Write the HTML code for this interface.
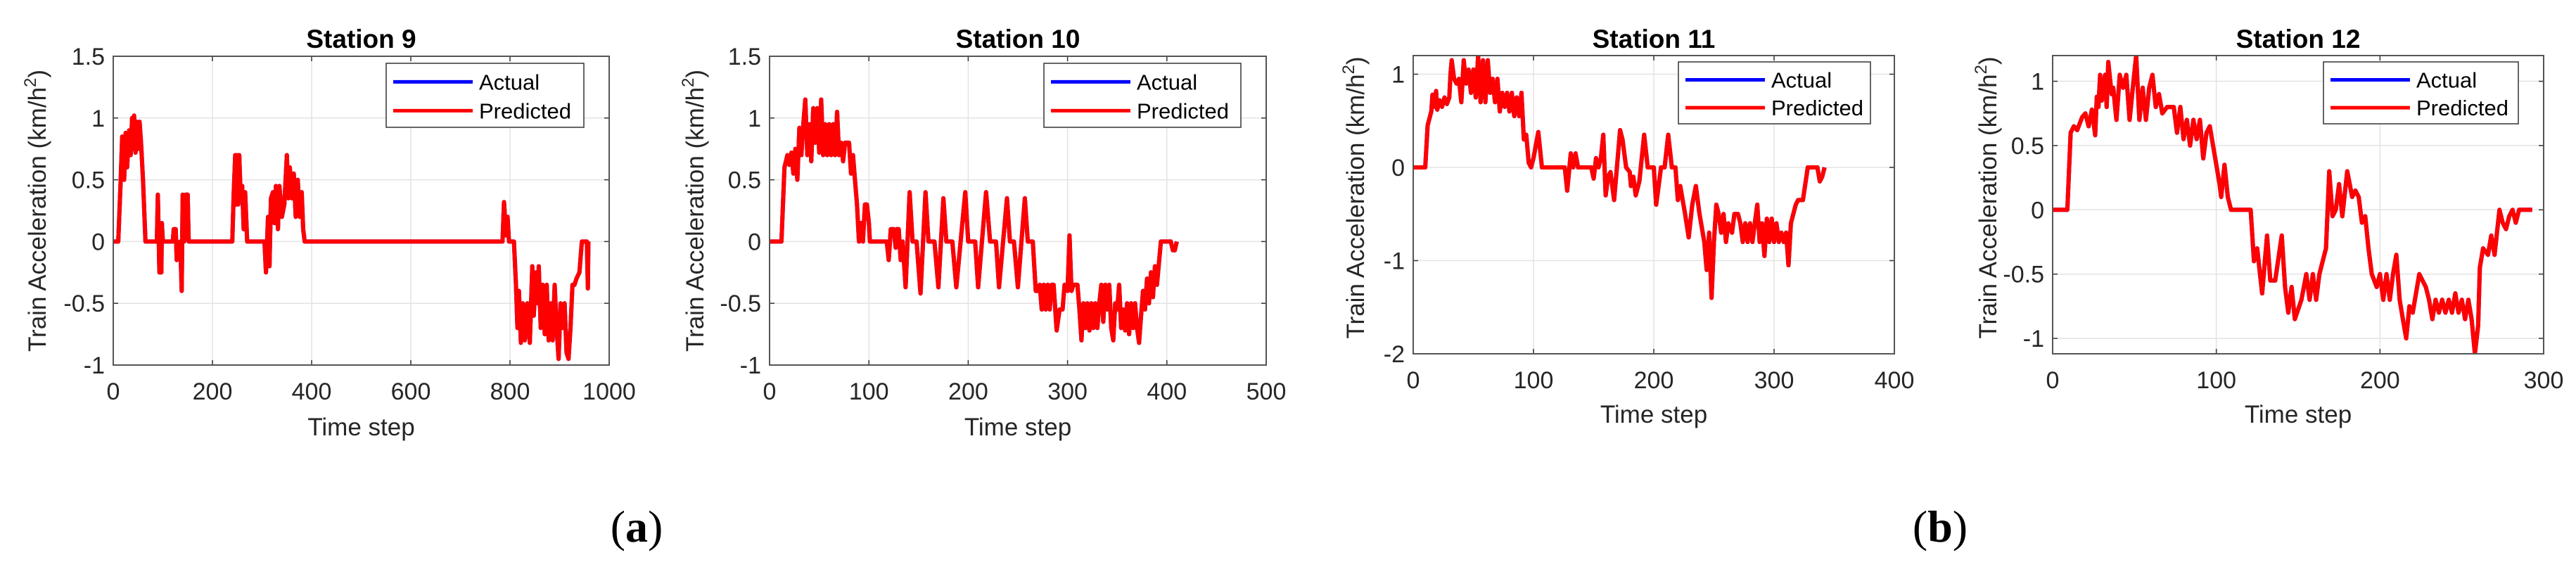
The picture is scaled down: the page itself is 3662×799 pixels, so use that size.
<!DOCTYPE html>
<html><head><meta charset="utf-8"><style>
html,body{margin:0;padding:0;background:#fff;}
svg{display:block;font-family:"Liberation Sans",Arial,sans-serif;}
</style></head><body>
<svg id="fig" width="3662" height="799" viewBox="0 0 3662 799" xmlns="http://www.w3.org/2000/svg">
<text x="905" y="770" font-family="Liberation Serif,serif" font-size="64" text-anchor="middle">(<tspan font-weight="bold">a</tspan>)</text>
<text x="2758" y="770" font-family="Liberation Serif,serif" font-size="64" text-anchor="middle">(<tspan font-weight="bold">b</tspan>)</text>
</svg>
<script>
const s9T=[0,10,15,18,22,25,28,32,35,38,40,42,45,48,50,53,56,60,65,88,90,93,97,98,100,120,122,126,128,132,135,138,140,143,146,150,152,240,243,246,248,250,252,254,257,260,263,266,270,305,308,312,315,318,322,325,328,332,335,340,345,350,353,356,360,364,368,372,376,380,383,386,785,788,792,795,798,808,812,815,818,822,826,830,835,840,845,848,852,856,858,862,866,870,874,878,882,886,890,894,898,902,906,910,914,918,922,926,930,934,940,945,955,957,958];
const s9V=[0,0,0.5,0.85,0.5,0.88,0.6,0.9,0.7,1.0,0.75,1.02,0.72,0.97,0.75,0.97,0.8,0.5,0,0,0.38,-0.25,-0.25,0.15,0,0,0.1,0.1,-0.15,-0.1,0,-0.4,0.38,0,0.38,0.38,0,0,0.4,0.7,0.3,0.7,0.3,0.7,0.35,0.45,0.1,0.4,0,0,-0.25,0.2,-0.2,0.35,0.4,0.15,0.45,0.1,0.45,0.2,0.3,0.7,0.35,0.6,0.35,0.55,0.2,0.5,0.2,0.4,0.1,0,0,0.32,0.05,0.2,0,0,-0.35,-0.7,-0.4,-0.82,-0.5,-0.8,-0.5,-0.82,-0.2,-0.6,-0.25,-0.5,-0.2,-0.7,-0.35,-0.75,-0.35,-0.8,-0.5,-0.8,-0.35,-0.7,-0.95,-0.5,-0.7,-0.5,-0.9,-0.95,-0.7,-0.35,-0.35,-0.3,-0.25,0,0,-0.38,0];
const s10T=[0,12,15,18,20,22,24,26,28,30,32,34,36,38,40,42,44,46,48,50,52,54,56,58,60,62,64,66,68,70,72,74,76,80,82,84,86,88,90,92,94,96,98,100,101,118,120,122,125,127,128,130,132,134,137,141,144,148,152,157,160,166,170,175,178,184,188,197,200,207,210,218,222,228,231,239,242,246,250,257,260,265,268,270,272,274,276,278,280,282,284,286,289,292,295,297,300,302,304,306,310,312,314,316,318,320,322,324,326,328,330,332,334,336,338,340,342,344,346,348,350,352,354,356,358,360,362,364,366,368,370,372,374,376,378,380,382,384,386,388,390,394,404,406,408,410];
const s10V=[0,0,0.6,0.7,0.62,0.72,0.55,0.75,0.5,0.92,0.7,0.95,1.15,0.7,0.95,0.65,1.08,0.8,1.08,0.72,1.15,0.7,0.95,0.7,0.95,0.7,0.95,0.7,1.05,0.7,0.8,0.65,0.8,0.8,0.55,0.7,0.5,0.3,0,0.15,0,0.3,0.3,0.15,0,0,-0.15,0.1,0.1,-0.05,0.1,0.1,-0.15,0,-0.37,0.4,0,0,-0.42,0.4,0,0,-0.37,0.35,0,0,-0.37,0.4,0,0,-0.37,0.4,0,0,-0.37,0.35,0,0,-0.37,0.35,0,0,-0.4,-0.4,-0.35,-0.55,-0.35,-0.55,-0.35,-0.55,-0.35,-0.35,-0.72,-0.55,-0.55,-0.35,-0.4,0.05,-0.4,-0.35,-0.35,-0.55,-0.8,-0.5,-0.7,-0.5,-0.72,-0.5,-0.7,-0.5,-0.7,-0.5,-0.35,-0.65,-0.35,-0.55,-0.35,-0.7,-0.8,-0.5,-0.55,-0.35,-0.7,-0.55,-0.72,-0.5,-0.75,-0.5,-0.7,-0.5,-0.7,-0.82,-0.6,-0.4,-0.55,-0.3,-0.5,-0.25,-0.45,-0.2,-0.35,0,0,-0.07,-0.07,0];
const s11T=[0,10,12,15,16,18,19,20,22,24,26,28,30,31,32,34,36,38,40,42,44,46,48,50,52,54,56,58,60,62,64,66,68,70,72,74,76,78,80,82,84,86,88,90,92,94,96,98,100,104,107,126,128,131,133,135,137,148,150,152,154,156,158,160,162,164,167,170,172,174,177,180,181,183,185,188,192,195,200,202,206,209,212,215,218,220,222,226,229,232,235,238,242,244,246,248,250,252,254,256,258,260,262,265,267,270,272,274,276,278,280,282,284,286,288,290,292,294,296,298,300,302,304,306,308,310,312,314,318,320,324,328,336,338,340,342];
const s11V=[0,0,0.45,0.6,0.78,0.65,0.82,0.62,0.72,0.65,0.75,0.68,0.75,1.0,1.15,0.95,0.9,0.95,0.7,1.15,0.9,1.05,0.8,1.05,0.75,1.2,0.7,1.15,0.7,1.15,0.8,0.95,0.7,0.95,0.6,0.8,0.65,0.8,0.6,0.8,0.55,0.75,0.55,0.8,0.3,0.35,0.05,0,0.1,0.38,0,0,-0.25,0.15,0,0.15,0,0,-0.12,0.1,0,0.1,0.35,-0.3,-0.1,-0.05,-0.35,0.1,0.4,0.3,0,-0.05,-0.2,-0.1,-0.3,-0.15,0.35,0,0,-0.4,0,0,0.35,0,0,-0.35,-0.2,-0.5,-0.75,-0.4,-0.2,-0.5,-0.8,-1.1,-0.7,-1.4,-0.8,-0.4,-0.5,-0.7,-0.5,-0.8,-0.6,-0.7,-0.5,-0.5,-0.6,-0.8,-0.6,-0.8,-0.6,-0.8,-0.6,-0.4,-0.8,-0.6,-0.95,-0.55,-0.8,-0.55,-0.8,-0.6,-0.8,-0.7,-0.8,-0.7,-1.05,-0.6,-0.4,-0.35,-0.35,0,0,-0.15,-0.1,0];
const s12T=[0,9,11,13,15,18,20,22,24,26,27,28,29,30,32,33,34,36,37,39,41,43,45,47,49,51,53,55,57,59,61,63,65,67,70,74,76,78,80,82,84,86,88,90,92,94,96,98,100,102,103,105,107,109,121,123,125,128,131,133,136,140,142,144,146,148,152,155,157,159,161,163,165,167,169,171,173,175,177,180,183,185,187,189,191,193,195,198,200,202,204,206,208,210,212,214,216,218,220,224,228,230,232,234,236,238,240,242,244,246,248,250,252,254,256,258,260,261,263,266,268,270,273,275,277,279,281,283,285,293];
const s12V=[0,0,0.6,0.65,0.62,0.72,0.75,0.65,0.78,0.58,0.88,0.8,1.05,0.85,1.05,0.8,1.15,0.9,0.95,0.7,1.05,0.95,1.05,0.7,0.95,1.2,0.7,0.95,0.7,0.95,1.05,0.8,0.9,0.75,0.8,0.8,0.6,0.8,0.55,0.7,0.5,0.7,0.55,0.7,0.4,0.6,0.65,0.5,0.35,0.2,0.1,0.35,0.1,0,0,-0.4,-0.3,-0.65,-0.2,-0.55,-0.55,-0.2,-0.6,-0.8,-0.6,-0.85,-0.7,-0.5,-0.7,-0.5,-0.7,-0.5,-0.4,-0.3,0.3,-0.05,0,0.2,-0.05,0.3,0.1,0.15,0.1,-0.1,-0.05,-0.3,-0.5,-0.6,-0.5,-0.7,-0.5,-0.7,-0.5,-0.35,-0.7,-0.85,-1.0,-0.75,-0.8,-0.5,-0.6,-0.7,-0.85,-0.7,-0.8,-0.7,-0.8,-0.7,-0.8,-0.65,-0.8,-0.7,-0.85,-0.7,-0.85,-1.12,-0.9,-0.45,-0.3,-0.35,-0.2,-0.35,0,-0.1,-0.15,-0.05,0,-0.1,0,0];
const s9XTicks=[0,200,400,600,800,1000], s9YTicks=[-1,-0.5,0,0.5,1,1.5];
const s10XTicks=[0,100,200,300,400,500], s10YTicks=[-1,-0.5,0,0.5,1,1.5];
const s11XTicks=[0,100,200,300,400], s11YTicks=[-2,-1,0,1];
const s12XTicks=[0,100,200,300], s12YTicks=[-1,-0.5,0,0.5,1];

const NS="http://www.w3.org/2000/svg";
const svg=document.getElementById('fig');
function mk(tag,attrs,parent){const e=document.createElementNS(NS,tag);for(const k in attrs)e.setAttribute(k,attrs[k]);(parent||svg).appendChild(e);return e;}

const panels=[
 {id:'station-9',title:'Station 9',L:161,R:866,T:80,B:519,xmin:0,xmax:1000,ymin:-1,ymax:1.5,xt:s9XTicks,yt:s9YTicks,t:s9T,v:s9V,leg:[549,830,90,181],xl:556,xt2:607,yl:53},
 {id:'station-10',title:'Station 10',L:1094,R:1800,T:80,B:519,xmin:0,xmax:500,ymin:-1,ymax:1.5,xt:s10XTicks,yt:s10YTicks,t:s10T,v:s10V,leg:[1484,1764,90,181],xl:556,xt2:607,yl:988},
 {id:'station-11',title:'Station 11',L:2009,R:2693,T:79,B:503,xmin:0,xmax:400,ymin:-2,ymax:1.2,xt:s11XTicks,yt:s11YTicks,t:s11T,v:s11V,leg:[2386,2659,88,176],xl:540,xt2:589,yl:1927},
 {id:'station-12',title:'Station 12',L:2918,R:3616,T:79,B:503,xmin:0,xmax:300,ymin:-1.12,ymax:1.2,xt:s12XTicks,yt:s12YTicks,t:s12T,v:s12V,leg:[3303,3580,88,176],xl:540,xt2:589,yl:2826}
];
panels.forEach(p=>{
 const g=mk('g',{});
 
 
 const sx=x=>p.L+(x-p.xmin)/(p.xmax-p.xmin)*(p.R-p.L);
 const sy=y=>p.B-(y-p.ymin)/(p.ymax-p.ymin)*(p.B-p.T);
 mk('rect',{x:p.L,y:p.T,width:p.R-p.L,height:p.B-p.T,fill:'#fff'},g);
 p.xt.forEach(x=>{
  const l=mk('line',{x1:sx(x),x2:sx(x),y1:p.T,y2:p.B,stroke:'#e3e3e3','stroke-width':1.5},g);
  
  
  mk('line',{x1:sx(x),x2:sx(x),y1:p.B,y2:p.B-7,stroke:'#333','stroke-width':1.5},g);
  mk('line',{x1:sx(x),x2:sx(x),y1:p.T,y2:p.T+7,stroke:'#333','stroke-width':1.5},g);
  const t=mk('text',{x:sx(x),y:p.xl+12,'font-size':34,'text-anchor':'middle',fill:'#262626'},g);
  t.textContent=String(x);
  
  
 });
 p.yt.forEach(y=>{
  const l=mk('line',{x1:p.L,x2:p.R,y1:sy(y),y2:sy(y),stroke:'#e3e3e3','stroke-width':1.5},g);
  
  
  mk('line',{x1:p.L,x2:p.L+7,y1:sy(y),y2:sy(y),stroke:'#333','stroke-width':1.5},g);
  mk('line',{x1:p.R,x2:p.R-7,y1:sy(y),y2:sy(y),stroke:'#333','stroke-width':1.5},g);
  const t=mk('text',{x:p.L-12,y:sy(y)+12,'font-size':34,'text-anchor':'end',fill:'#262626'},g);
  t.textContent=String(y);
  
  
 });
 const cp='clip-'+p.id;
 const cl=mk('clipPath',{id:cp},g); mk('rect',{x:p.L,y:p.T,width:p.R-p.L,height:p.B-p.T},cl);
 const d=p.t.map((x,i)=>(i?'L':'M')+sx(x).toFixed(1)+','+sy(p.v[i]).toFixed(1)).join(' ');
 const a=mk('path',{d:d,fill:'none',stroke:'#0000ff','stroke-width':6,'stroke-linejoin':'round','clip-path':'url(#'+cp+')'},g);
 
 
 const pr=mk('path',{d:d,fill:'none',stroke:'#ff0000','stroke-width':6,'stroke-linejoin':'round','clip-path':'url(#'+cp+')'},g);
 
 
 mk('rect',{x:p.L,y:p.T,width:p.R-p.L,height:p.B-p.T,fill:'none',stroke:'#555','stroke-width':2},g);
 const ti=mk('text',{x:(p.L+p.R)/2,y:68,'font-size':37,'font-weight':'bold','text-anchor':'middle',fill:'#000'},g);
 ti.textContent=p.title;
 
 
 const xl=mk('text',{x:(p.L+p.R)/2,y:p.xt2+12,'font-size':35,'text-anchor':'middle',fill:'#262626'},g);
 xl.textContent='Time step';
 
 
 const yc=(p.T+p.B)/2+ (p.B>510?0:-10);
 const yl=mk('text',{x:0,y:0,'font-size':35,'text-anchor':'middle',fill:'#262626',transform:'translate('+(p.yl+12)+','+yc+') rotate(-90)'},g);
 yl.innerHTML='Train Acceleration (km/h<tspan dy="-14" font-size="24">2</tspan><tspan dy="14">)</tspan>';
 
 
 const [lx1,lx2,ly1,ly2]=p.leg;
 const lg=mk('g',{},g);
 
 
 mk('rect',{x:lx1,y:ly1,width:lx2-lx1,height:ly2-ly1,fill:'#fff',stroke:'#333','stroke-width':1.5},lg);
 const h=ly2-ly1;
 [['Actual','#0000ff',0.29],['Predicted','#ff0000',0.74]].forEach(([n,c,f])=>{
  const yy=ly1+h*f;
  const ln=mk('line',{x1:lx1+10,x2:lx1+123,y1:yy,y2:yy,stroke:c,'stroke-width':5},lg);
  
  
  const tx=mk('text',{x:lx1+132,y:yy+11,'font-size':31,fill:'#000'},lg);
  tx.textContent=n;
  
  
 });
});
</script>
</body></html>
